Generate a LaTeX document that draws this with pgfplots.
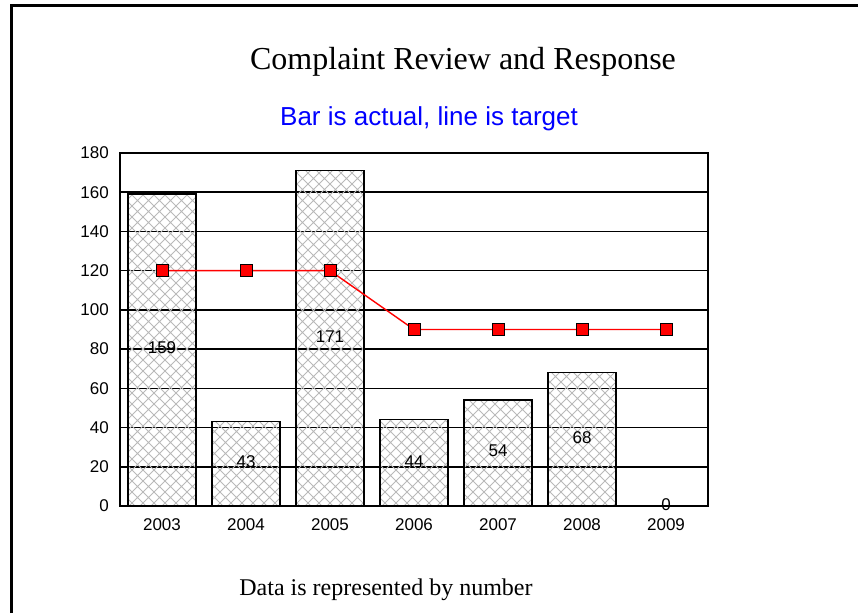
\documentclass[border=0pt]{standalone}
\usepackage{pgfplots}
\pgfplotsset{compat=1.18}
\usepackage{fontspec}
\setmainfont{Liberation Serif}
\newfontfamily\arial{Liberation Sans}
\usetikzlibrary{patterns}
\pgfdeclarepatternformonly{diamonds}{\pgfqpoint{-1pt}{-1pt}}{\pgfqpoint{12pt}{12pt}}{\pgfqpoint{11pt}{11pt}}{%
  \pgfsetlinewidth{1pt}%
  \pgfpathmoveto{\pgfqpoint{0pt}{0pt}}\pgfpathlineto{\pgfqpoint{11pt}{11pt}}%
  \pgfpathmoveto{\pgfqpoint{0pt}{11pt}}\pgfpathlineto{\pgfqpoint{11pt}{0pt}}%
  \pgfusepath{stroke}}
\begin{document}
\begin{tikzpicture}
\path[use as bounding box] (0pt,0pt) rectangle (858pt,-613pt);
\draw[line width=3pt, line join=miter] (11pt,-613pt) -- (11pt,-5.5pt) -- (858pt,-5.5pt);
\node[anchor=base, font=\fontsize{32}{32}\selectfont] at (463pt,-69pt) {Complaint Review and Response};
\node[anchor=base, font=\arial\fontsize{26}{26}\selectfont, text=blue] at (429pt,-125pt) {Bar is actual, line is target};
\node[anchor=base, font=\fontsize{24}{24}\selectfont] at (386pt,-595pt) {Data is represented by number};
\begin{axis}[
  at={(120pt,-506pt)}, anchor=south west, scale only axis,
  width=588pt, height=353pt,
  xmin=-0.5, xmax=6.5, ymin=0, ymax=180,
  ytick={0,20,...,180}, xtick={0,...,6},
  xticklabels={2003,2004,2005,2006,2007,2008,2009},
  ymajorgrids, major grid style={black, line width=1.5pt},
  axis line style={black, line width=1.5pt},
  major tick length=0pt,
  tick label style={font=\arial\fontsize{17}{17}\selectfont},
  /pgf/number format/assume math mode=true,
  yticklabel style={inner sep=0pt, xshift=-11pt},
  xticklabel style={inner sep=0pt, yshift=-12pt},
  clip=false,
]
\addplot[ybar, bar width=0.81, draw=black, line width=1.5pt, pattern=diamonds, pattern color=gray!55] table {
x y
0 159
1 43
2 171
3 44
4 54
5 68
6 0
};
\addplot[red, line width=1.4pt, mark=square*, mark size=6pt, mark options={fill=red, draw=black, line width=1pt}] table {
x y
0 120
1 120
2 120
3 90
4 90
5 90
6 90
};
\addplot[draw=none, mark=none, nodes near coords, point meta=explicit symbolic,
  every node near coord/.append style={anchor=center, inner sep=0pt, font=\arial\fontsize{17}{17}\selectfont, text=black}] table[meta=label] {
x y label
0 80.5 159
1 22.5 43
2 86.5 171
3 22.5 44
4 28 54
5 35 68
6 0.5 0
};
\end{axis}
\end{tikzpicture}
\end{document}
